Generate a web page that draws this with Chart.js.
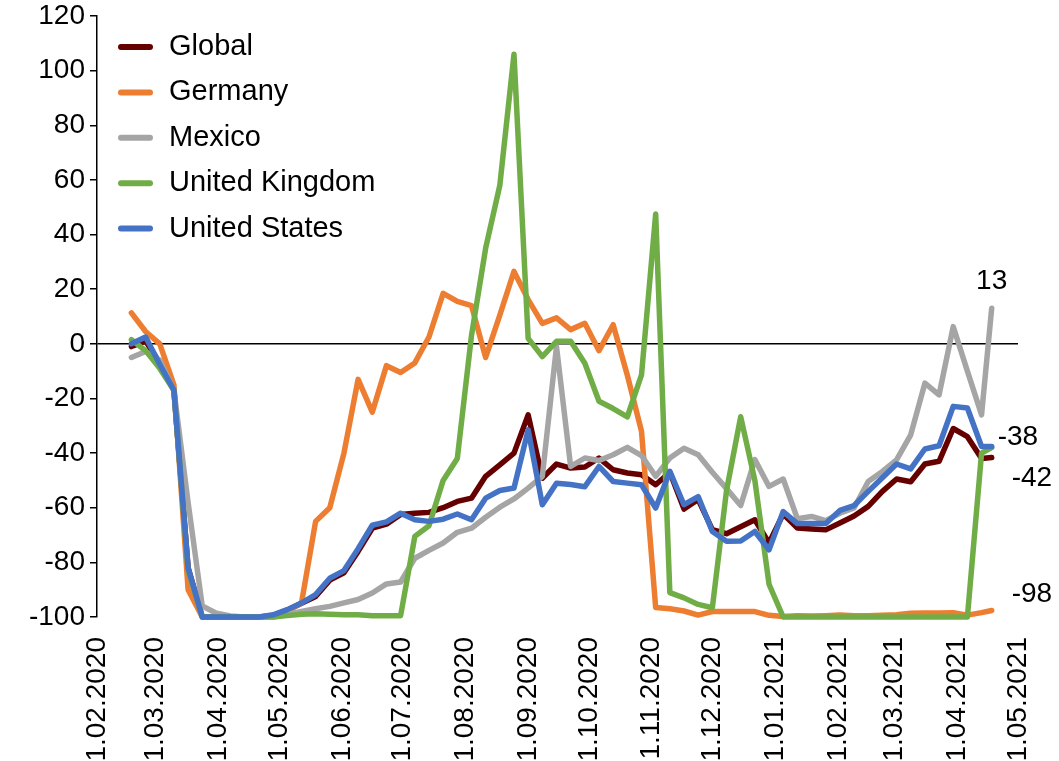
<!DOCTYPE html>
<html><head><meta charset="utf-8">
<script src="https://cdn.jsdelivr.net/npm/chart.js@4.4.1/dist/chart.umd.min.js"></script>
<style>html,body{margin:0;padding:0;background:#fff;}canvas{display:block;}</style>
</head><body>
<canvas id="c" width="1059" height="761"></canvas>
<script>
const dates = ["2020-02-18","2020-02-25","2020-03-03","2020-03-10","2020-03-17","2020-03-24","2020-03-31","2020-04-07","2020-04-14","2020-04-21","2020-04-28","2020-05-05","2020-05-12","2020-05-19","2020-05-26","2020-06-02","2020-06-09","2020-06-16","2020-06-23","2020-06-30","2020-07-07","2020-07-14","2020-07-21","2020-07-28","2020-08-04","2020-08-11","2020-08-18","2020-08-25","2020-09-01","2020-09-08","2020-09-15","2020-09-22","2020-09-29","2020-10-06","2020-10-13","2020-10-20","2020-10-27","2020-11-03","2020-11-10","2020-11-17","2020-11-24","2020-12-01","2020-12-08","2020-12-15","2020-12-22","2020-12-29","2021-01-05","2021-01-12","2021-01-19","2021-01-26","2021-02-02","2021-02-09","2021-02-16","2021-02-23","2021-03-02","2021-03-09","2021-03-16","2021-03-23","2021-03-30","2021-04-06","2021-04-13","2021-04-18"];

const globalVals = [-1,1,-7,-17,-82,-100,-100,-100,-100,-100,-99.5,-97.5,-95,-92.5,-86.5,-83.8,-76,-67.5,-66,-62.5,-62,-61.7,-60,-57.7,-56.5,-48.5,-44.3,-40,-26,-49.2,-44,-45.5,-45.1,-41.8,-46.1,-47.3,-47.9,-51.6,-47,-60.5,-57,-68,-69.5,-67,-64.4,-72.9,-62.3,-67.4,-67.8,-68.1,-65.6,-63,-59.5,-54,-49.5,-50.5,-44,-43,-31,-34,-42,-41.6];

const germanyVals = [11.3,4.5,0,-15,-90,-100,-100,-100,-100,-100,-99.5,-97.5,-95,-65,-60,-40,-13,-25,-8,-10.5,-7,2.5,18.5,15.5,14,-5,10.5,26.5,16.2,7.5,9.5,5.2,7.5,-2.5,7,-11.5,-32,-96.5,-97,-97.8,-99.3,-98,-98,-98,-98,-99.4,-99.8,-99.5,-99.6,-99.5,-99.3,-99.5,-99.5,-99.4,-99.2,-98.6,-98.5,-98.5,-98.4,-99.3,-98.4,-97.6];

const mexicoVals = [-5,-2.8,-6,-17,-58,-96,-98.6,-99.6,-100,-100,-100,-99,-98,-97,-96.1,-94.8,-93.6,-91.2,-87.9,-87.2,-78.5,-75.6,-72.9,-69,-67.5,-63.5,-59.8,-56.8,-52.8,-48.5,-1,-44.9,-41.8,-42.7,-40.6,-37.9,-40.9,-48.5,-41.8,-38.2,-40.6,-47,-53,-59.2,-42.4,-52.2,-49.5,-64,-63.2,-64.7,-62,-60.1,-50.4,-46.7,-42.5,-33.3,-14.4,-18.7,6.3,-10,-26,13];

const ukVals = [1.5,-2.5,-9,-17,-83,-100,-100,-100,-100,-100,-100,-99.5,-99,-98.8,-99,-99.2,-99.2,-99.5,-99.5,-99.5,-70.5,-66.6,-50,-42,3,35,58,106,2,-4.7,0.9,0.9,-7.1,-21,-23.7,-26.7,-11.4,47.5,-91.1,-93,-95.4,-96.6,-53.7,-26.7,-50,-88,-100,-100,-100,-100,-100,-100,-100,-100,-100,-100,-100,-100,-100,-100,-40,-38];

const usVals = [0,2.5,-7.5,-17,-82,-100,-100,-100,-100,-100,-99.2,-97.3,-94.9,-91.8,-85.8,-83,-75,-66.4,-65.2,-62,-64.4,-65,-64.2,-62.3,-64.4,-56.5,-53.7,-52.8,-31.5,-58.9,-51,-51.5,-52.3,-44.9,-50.4,-51,-51.6,-60.1,-46.7,-58.9,-55.9,-68.7,-72.3,-72.2,-68.7,-75.4,-61.4,-65.8,-65.8,-65.8,-61,-59.2,-54,-49,-44,-45.8,-38.5,-37.3,-22.9,-23.5,-37.6,-37.6];

const seriesNames = ["Global","Germany","Mexico","United Kingdom","United States"];
const seriesColors = ["#660000","#ED7D31","#A5A5A5","#70AD47","#4472C4"];
const seriesValues = [globalVals, germanyVals, mexicoVals, ukVals, usVals];

const tickDates = ["2020-02-01","2020-03-01","2020-04-01","2020-05-01","2020-06-01","2020-07-01","2020-08-01","2020-09-01","2020-10-01","2020-11-01","2020-12-01","2021-01-01","2021-02-01","2021-03-01","2021-04-01","2021-05-01"];
const tickLabels = ["1.02.2020","1.03.2020","1.04.2020","1.05.2020","1.06.2020","1.07.2020","1.08.2020","1.09.2020","1.10.2020","1.11.2020","1.12.2020","1.01.2021","1.02.2021","1.03.2021","1.04.2021","1.05.2021"];

const FONT = "'Liberation Sans', Arial, sans-serif";
const origin = Date.parse("2020-02-01");
const dayOf = s => (Date.parse(s) - origin) / 86400000;
const xDays = dates.map(dayOf);
const tickDays = tickDates.map(dayOf);

// end-of-line value labels: [series index, align, dx, dy]
const endLabels = [[2,'center',0,-19],[4,'left',6,-2],[0,'left',20,29],[1,'left',20,-8]];

const bgPlugin = {id:'bg', beforeDraw(chart){const c=chart.ctx;c.save();c.fillStyle='#fff';c.fillRect(0,0,chart.width,chart.height);c.restore();}};

const legendPlugin = {id:'lg', afterDraw(chart){
  const c = chart.ctx; c.save();
  c.font = "29px " + FONT; c.textBaseline = 'middle'; c.fillStyle = '#000';
  chart.data.datasets.forEach((d,k)=>{
    const y = 47 + k*45.4;
    c.strokeStyle = d.borderColor; c.lineWidth = 6; c.lineCap = 'round';
    c.beginPath(); c.moveTo(121,y); c.lineTo(150,y); c.stroke();
    c.fillText(d.label, 169, y);
  });
  c.restore();
}};

const labelPlugin = {id:'vl', afterDraw(chart){
  const c = chart.ctx; c.save();
  c.font = "28px " + FONT; c.fillStyle = '#000'; c.textBaseline = 'alphabetic';
  endLabels.forEach(([k,align,dx,dy])=>{
    const meta = chart.getDatasetMeta(k);
    const pt = meta.data[meta.data.length-1];
    const vals = seriesValues[k];
    c.textAlign = align;
    c.fillText(String(Math.round(vals[vals.length-1])), pt.x+dx, pt.y+dy);
  });
  c.restore();
}};

Chart.defaults.font.family = FONT;
Chart.defaults.color = '#000';

new Chart(document.getElementById('c').getContext('2d'), {
  type: 'line',
  data: {
    datasets: seriesNames.map((n,k)=>({
      label: n,
      data: seriesValues[k].map((v,i)=>({x:xDays[i], y:v})),
      borderColor: seriesColors[k],
      backgroundColor: seriesColors[k],
      borderWidth: 5.5,
      pointRadius: 0,
      tension: 0,
      borderJoinStyle: 'round',
      borderCapStyle: 'round',
      order: 5-k,
      clip: 10
    }))
  },
  options: {
    responsive: false, animation: false, devicePixelRatio: 1,
    layout: {padding: {top: 16, right: 41, left: 0, bottom: 0}},
    plugins: {legend: {display: false}, tooltip: {enabled: false}},
    scales: {
      x: {
        type: 'linear', min: 0, max: tickDays[tickDays.length-1],
        afterBuildTicks: sc => { sc.ticks = tickDays.map(v=>({value:v})); },
        afterFit: sc => { sc.height = 144; sc.paddingLeft = 0; sc.paddingRight = 0; },
        grid: {display: false}, border: {display: false},
        ticks: {autoSkip: false, minRotation: 90, maxRotation: 90, padding: 12, font: {size: 28},
                callback: (v,i) => tickLabels[i]}
      },
      y: {
        min: -100, max: 120,
        afterFit: sc => { sc.width = 97; sc.paddingTop = 0; sc.paddingBottom = 0; },
        ticks: {stepSize: 20, padding: 5, font: {size: 28}},
        grid: {drawOnChartArea: true, color: c => (c.tick && c.tick.value === 0) ? '#000' : 'rgba(0,0,0,0)',
               tickColor: '#000', tickLength: 7, lineWidth: 1.5},
        border: {display: true, color: '#000', width: 1.5}
      }
    }
  },
  plugins: [bgPlugin, legendPlugin, labelPlugin]
});
</script>
</body></html>
